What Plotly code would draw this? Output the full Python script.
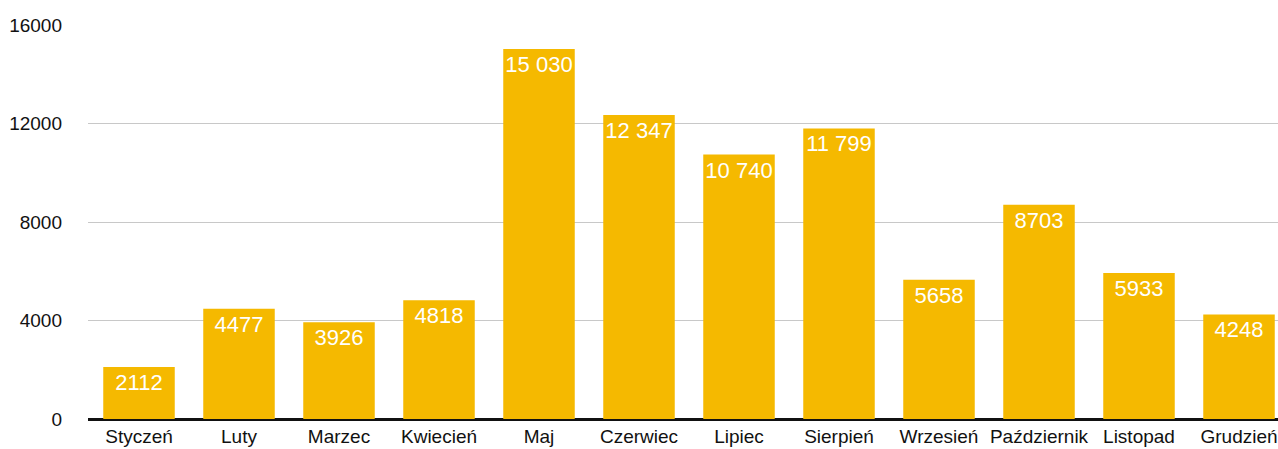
import plotly.graph_objects as go

months = ["Styczeń", "Luty", "Marzec", "Kwiecień", "Maj", "Czerwiec", "Lipiec",
          "Sierpień", "Wrzesień", "Październik", "Listopad", "Grudzień"]
values = [2112, 4477, 3926, 4818, 15030, 12347, 10740, 11799, 5658, 8703, 5933, 4248]
labels = ["2112", "4477", "3926", "4818", "15 030", "12 347", "10 740", "11 799",
          "5658", "8703", "5933", "4248"]
y_ticks = [0, 4000, 8000, 12000, 16000]

fig = go.Figure(go.Bar(
    x=list(range(len(months))),
    y=values,
    text=labels,
    textposition="inside",
    insidetextanchor="end",
    textangle=0,
    constraintext="none",
    textfont=dict(family="Liberation Sans, Arial, sans-serif", size=22, color="white"),
    marker=dict(color="#F5B900", line=dict(width=0)),
    width=0.715,
    hoverinfo="skip",
))

fig.update_layout(
    width=1278, height=449,
    margin=dict(l=88, r=0, t=25, b=30),
    paper_bgcolor="white", plot_bgcolor="white",
    showlegend=False,
    font=dict(family="Liberation Sans, Arial, sans-serif", color="#111111"),
    xaxis=dict(
        tickmode="array",
        tickvals=list(range(len(months))),
        ticktext=months,
        range=[-0.51, 11.39],
        showgrid=False,
        showline=False,
        zeroline=False,
        ticks="",
        tickfont=dict(size=19, color="#111111"),
        ticklabelstandoff=4,
        automargin=False,
    ),
    yaxis=dict(
        range=[0, 16000],
        tickmode="array",
        tickvals=y_ticks,
        ticktext=[str(v) for v in y_ticks],
        showgrid=True,
        gridcolor="#c8c8c8",
        gridwidth=1,
        zeroline=True,
        zerolinecolor="#111111",
        zerolinewidth=3,
        showline=False,
        ticks="",
        tickfont=dict(size=19, color="#111111"),
        ticklabelstandoff=25,
        automargin=False,
    ),
)

fig.write_html(
    "out.html",
    config={"displayModeBar": False, "staticPlot": True},
    post_script="document.body.style.margin='0';document.body.style.overflow='hidden';",
)
